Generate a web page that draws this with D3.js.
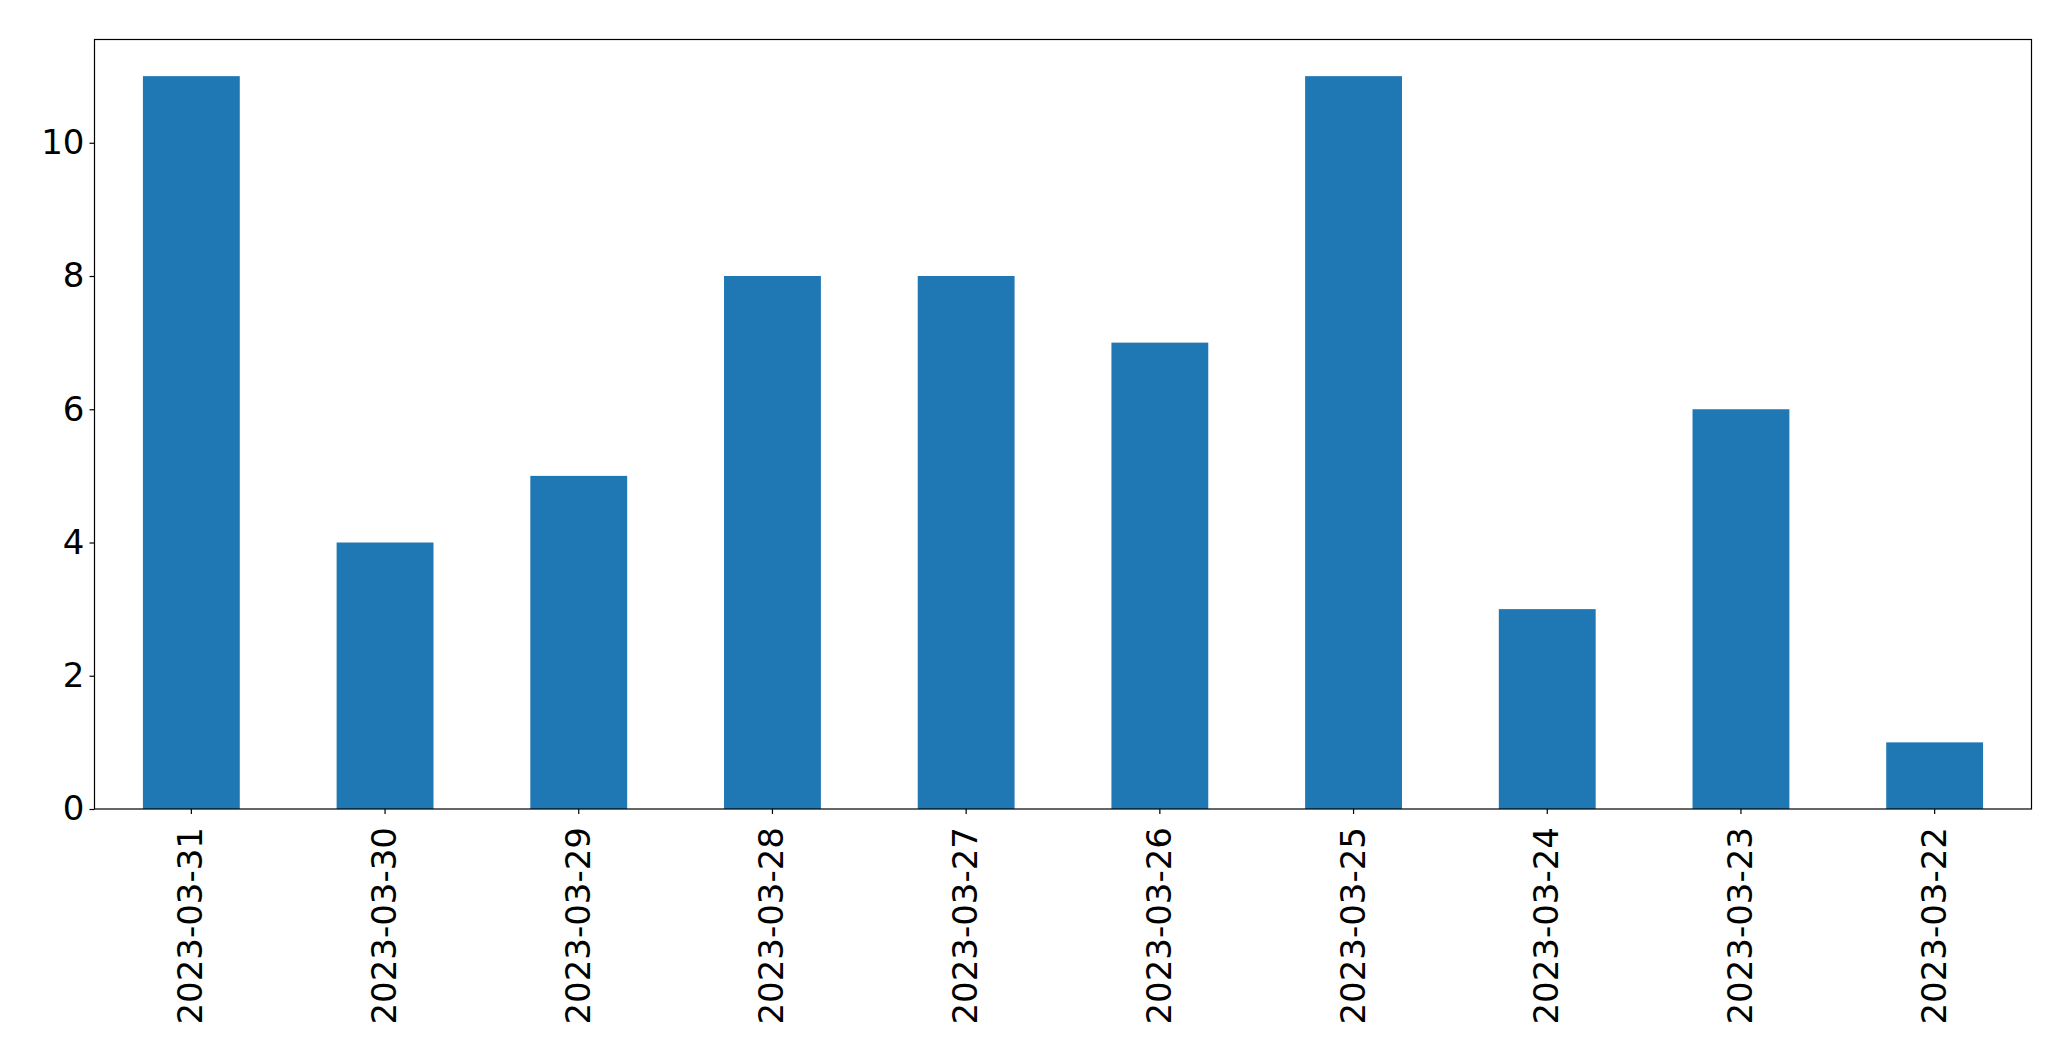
<!DOCTYPE html>
<html><head><meta charset="utf-8">
<script src="https://cdn.jsdelivr.net/npm/d3@7"></script>
<style>body{margin:0;background:#fff}text{font-family:"DejaVu Sans",sans-serif}</style>
</head><body><svg id="c" width="2071" height="1061"></svg>
<script>
const categories = ["2023-03-31","2023-03-30","2023-03-29","2023-03-28","2023-03-27","2023-03-26","2023-03-25","2023-03-24","2023-03-23","2023-03-22"];
const values = [11,4,5,8,8,7,11,3,6,1];
const yTicks = [0,2,4,6,8,10];

const svg = d3.select("#c");
const L = 94.5, R = 2031.5, T = 39.5, B = 809;
const x = d3.scaleBand().domain(categories).range([L, R]).paddingInner(0.5).paddingOuter(0.25);
const y = d3.scaleLinear().domain([0, d3.max(values) * 1.05]).range([B, T]);

svg.append("g").selectAll("rect").data(values).join("rect")
  .attr("x", (d, i) => x(categories[i]))
  .attr("width", x.bandwidth())
  .attr("y", d => y(d))
  .attr("height", d => y(0) - y(d))
  .attr("fill", "#1f77b4");

const fs = 34;
const yAxis = svg.append("g").attr("transform", `translate(${L},0)`)
  .call(d3.axisLeft(y).tickValues(yTicks).tickFormat(d3.format("d")).tickSize(5).tickPadding(5));
yAxis.select(".domain").remove();
yAxis.selectAll("text").attr("font-size", fs).attr("fill", "#000").style("font-family", '"DejaVu Sans"');
yAxis.selectAll("line").attr("stroke", "#000").attr("stroke-width", 1.2);

const xAxis = svg.append("g").attr("transform", `translate(0,${B})`)
  .call(d3.axisBottom(x).tickSize(5).tickPadding(0));
xAxis.select(".domain").remove();
xAxis.selectAll("line").attr("stroke", "#000").attr("stroke-width", 1.2);
xAxis.selectAll("text").attr("font-size", fs).attr("fill", "#000").style("font-family", '"DejaVu Sans"')
  .attr("text-anchor", "end").attr("dy", null).attr("y", 0)
  .attr("transform", "translate(11,18) rotate(-90)");

svg.append("rect").attr("x", L).attr("y", T).attr("width", R - L).attr("height", B - T)
  .attr("fill", "none").attr("stroke", "#000").attr("stroke-width", 1.2);
</script></body></html>
